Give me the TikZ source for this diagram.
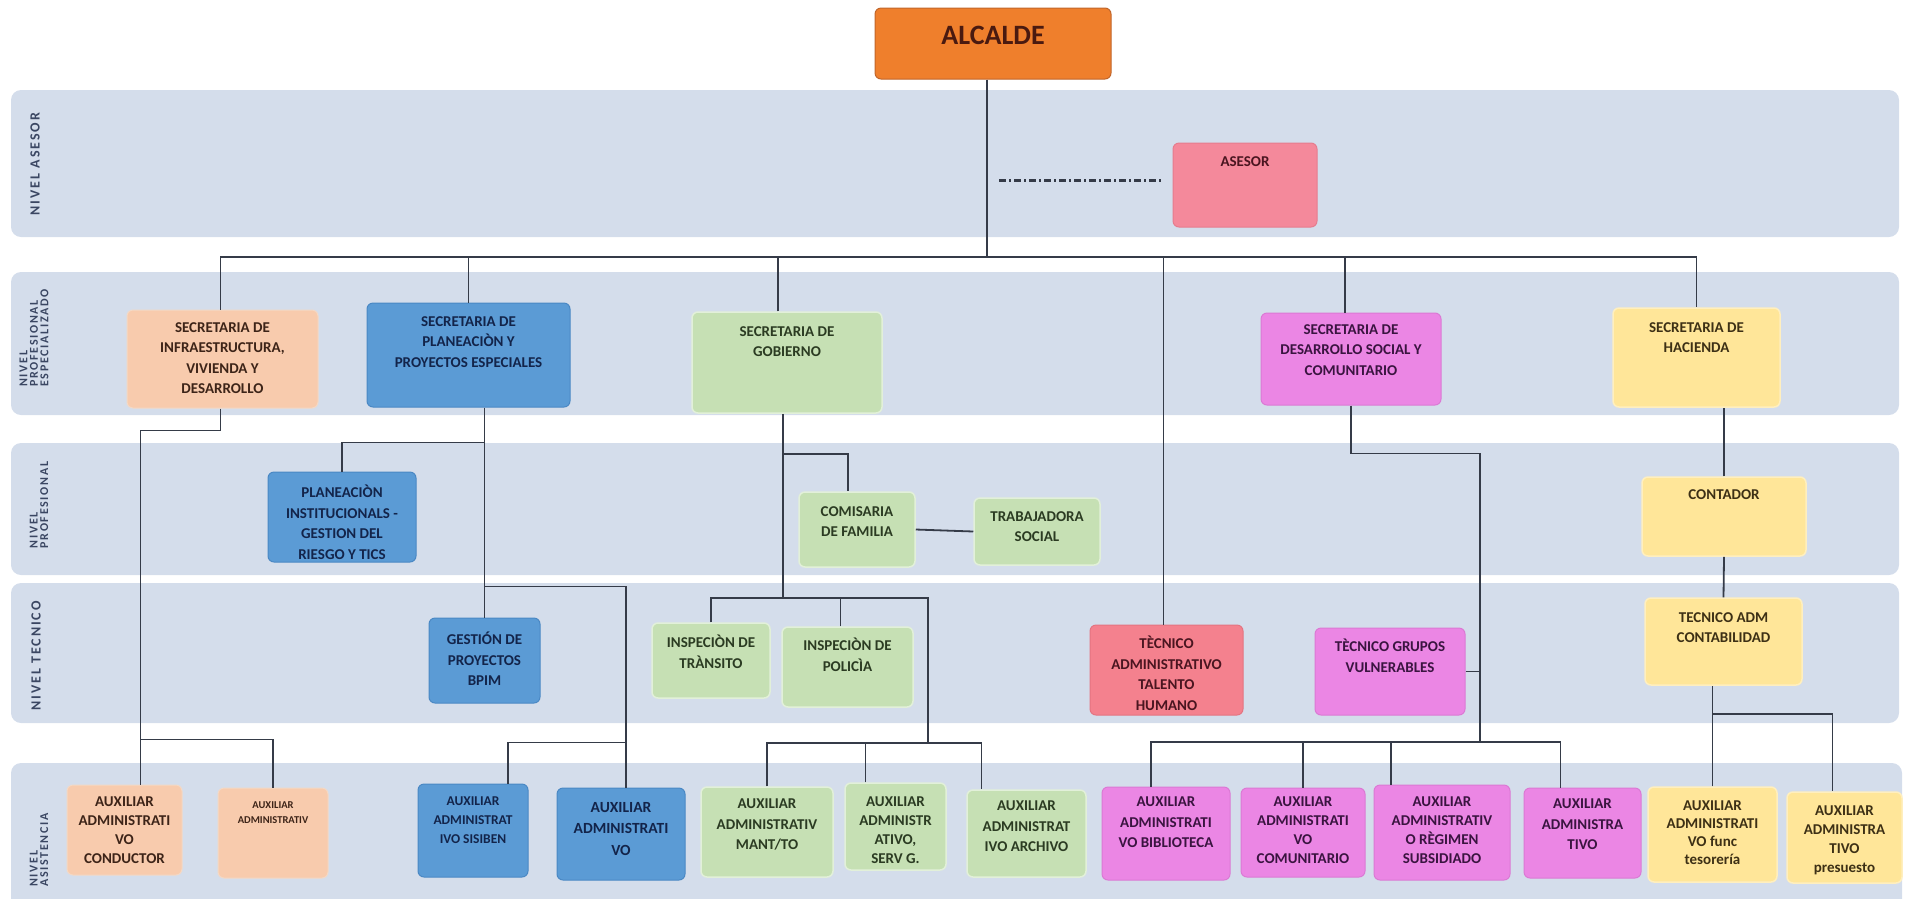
\documentclass[tikz,border=0pt]{standalone}
\usepackage{fontspec}
\setmainfont{Carlito}
\newfontfamily\lblfont{Carlito}[LetterSpace=14]
\usetikzlibrary{fit,calc}
\definecolor{bandc}{HTML}{D4DDEB}
\definecolor{linec}{HTML}{353B48}
\definecolor{orangef}{HTML}{EF7F2C}\definecolor{oranged}{HTML}{C0652A}\definecolor{oranget}{HTML}{4A1A10}
\definecolor{asesf}{HTML}{F4899B}\definecolor{asesd}{HTML}{E67C8E}\definecolor{pinkt}{HTML}{4A1520}
\definecolor{peachf}{HTML}{F8CBAD}\definecolor{peachd}{HTML}{F3D9C6}\definecolor{peacht}{HTML}{3D2418}
\definecolor{bluef}{HTML}{5B9BD5}\definecolor{blued}{HTML}{4A88C4}\definecolor{bluet}{HTML}{13244A}
\definecolor{greenf}{HTML}{C6E0B4}\definecolor{greend}{HTML}{E2F0D9}\definecolor{greent}{HTML}{2B3B22}
\definecolor{violf}{HTML}{EB86E4}\definecolor{viold}{HTML}{DB79D4}\definecolor{violt}{HTML}{3A1440}
\definecolor{yellf}{HTML}{FFE699}\definecolor{yelld}{HTML}{FFEFBF}\definecolor{yellt}{HTML}{3D3015}
\definecolor{tthf}{HTML}{F4818E}\definecolor{tthd}{HTML}{E47481}
\definecolor{lblc}{HTML}{3A4662}
\newcommand\obox[9]{%
  \node[#1, fit={(#3,#4)(#5,#6)}] (#2) {};
  \node[#1t, #8] (#2t) at ({(#3+#5)/2},#7) {#9};
}
\begin{document}
\begin{tikzpicture}[x=1pt,y=-1pt,
  band/.style={fill=bandc, rounded corners=10pt},
  ubox/.style={rounded corners=6pt, line width=1pt, inner sep=0pt},
  txt/.style={align=center, inner sep=0pt, anchor=north, font=\bfseries\fontsize{15}{20.5}\selectfont},
  small/.style={font=\bfseries\fontsize{15}{19}\selectfont},
  orange/.style={ubox, fill=orangef, draw=oranged},
  oranget/.style={txt, text=oranget},
  ases/.style={ubox, fill=asesf, draw=asesd},
  asest/.style={txt, text=pinkt},
  peach/.style={ubox, fill=peachf, draw=peachd},
  peacht/.style={txt, text=peacht},
  blue/.style={ubox, fill=bluef, draw=blued},
  bluet/.style={txt, text=bluet},
  green/.style={ubox, fill=greenf, draw=greend, line width=1.5pt},
  greent/.style={txt, text=greent},
  viol/.style={ubox, fill=violf, draw=viold},
  violt/.style={txt, text=violt},
  yell/.style={ubox, fill=yellf, draw=yelld, line width=1.5pt},
  yellt/.style={txt, text=yellt},
  tth/.style={ubox, fill=tthf, draw=tthd},
  ttht/.style={txt, text=pinkt},
  conn/.style={draw=linec, line width=1.8pt},
  lbl/.style={rotate=90, align=left, inner sep=0pt, text=lblc, font=\lblfont\bfseries\fontsize{14}{14}\selectfont},
  lbls/.style={lbl, font=\lblfont\bfseries\fontsize{12}{10.5}\selectfont},
]
\useasboundingbox (0,0) rectangle (1910,898);
% bands
\fill[band] (11,90) rectangle (1899,237);
\fill[band] (11,272) rectangle (1899,415);
\fill[band] (11,443) rectangle (1899,575);
\fill[band] (11,583) rectangle (1899,723);
\fill[band] (11,763) rectangle (1902,910);
\node[lbl] (l1) at (35,164) {NIVEL ASESOR};
\node[lbls] (l2) at (34,338) {NIVEL\\PROFESIONAL\\ESPECIALIZADO};
\node[lbls] (l3) at (39,505) {NIVEL\\PROFESIONAL};
\node[lbl] (l4) at (36,656) {NIVEL TECNICO};
\node[lbls] (l5) at (39,850) {NIVEL\\ASISTENCIA};
% top
\obox{orange}{alcalde}{875}{8}{1111}{79}{26}{font=\bfseries\fontsize{28}{30}\selectfont}{ALCALDE}
\obox{ases}{asesor}{1173}{143}{1317}{227}{156}{}{ASESOR}
% secretarias
\obox{peach}{infra}{127}{310}{318}{408}{322}{}{SECRETARIA DE\\INFRAESTRUCTURA,\\VIVIENDA Y\\DESARROLLO}
\obox{blue}{plan}{367}{303}{570}{407}{316}{}{SECRETARIA DE\\PLANEACIÒN Y\\PROYECTOS ESPECIALES}
\obox{green}{gob}{692}{312}{882}{413}{326}{}{SECRETARIA DE\\GOBIERNO}
\obox{viol}{desa}{1261}{313}{1441}{405}{324}{}{SECRETARIA DE\\DESARROLLO SOCIAL Y\\COMUNITARIO}
\obox{yell}{hac}{1613}{308}{1780}{407}{322}{}{SECRETARIA DE\\HACIENDA}
% nivel profesional
\obox{blue}{pinst}{268}{472}{416}{562}{485}{}{PLANEACIÒN\\INSTITUCIONALS -\\GESTION DEL\\RIESGO Y TICS}
\obox{green}{comis}{799}{492}{915}{567}{506}{}{COMISARIA\\DE FAMILIA}
\obox{green}{trab}{974}{498}{1100}{565}{511}{}{TRABAJADORA\\SOCIAL}
\obox{yell}{cont}{1642}{477}{1806}{556}{489}{}{CONTADOR}
% nivel tecnico
\obox{blue}{gest}{429}{618}{540}{703}{632}{}{GESTIÓN DE\\PROYECTOS\\BPIM}
\obox{green}{itran}{652}{623}{770}{698}{635}{}{INSPECIÒN DE\\TRÀNSITO}
\obox{green}{ipol}{782}{627}{913}{707}{638}{}{INSPECIÒN DE\\POLICÌA}
\obox{tth}{tth}{1090}{625}{1243}{715}{636}{}{TÈCNICO\\ADMINISTRATIVO\\TALENTO\\HUMANO}
\obox{viol}{tgv}{1315}{628}{1465}{715}{639}{}{TÈCNICO GRUPOS\\VULNERABLES}
\obox{yell}{tadm}{1645}{598}{1802}{685}{612}{}{TECNICO ADM\\CONTABILIDAD}
% nivel asistencia
\obox{peach}{acond}{67}{785}{182}{875}{797}{small}{AUXILIAR\\ADMINISTRATI\\VO\\CONDUCTOR}
\obox{peach}{aadmA}{218}{788}{328}{878}{801}{font=\bfseries\fontsize{10.5}{15}\selectfont}{AUXILIAR\\ADMINISTRATIV}
\obox{blue}{asis}{418}{784}{528}{877}{797}{font=\bfseries\fontsize{13.5}{19}\selectfont}{AUXILIAR\\ADMINISTRAT\\IVO SISIBEN}
\obox{blue}{aadmB}{557}{788}{685}{880}{802}{font=\bfseries\fontsize{15.5}{21.5}\selectfont}{AUXILIAR\\ADMINISTRATI\\VO}
\obox{green}{amant}{701}{787}{833}{877}{799}{}{AUXILIAR\\ADMINISTRATIV\\MANT/TO}
\obox{green}{aserv}{845}{783}{946}{870}{797}{small}{AUXILIAR\\ADMINISTR\\ATIVO,\\SERV G.}
\obox{green}{aarch}{967}{790}{1086}{877}{801}{}{AUXILIAR\\ADMINISTRAT\\IVO ARCHIVO}
\obox{viol}{abib}{1102}{787}{1230}{880}{797}{}{AUXILIAR\\ADMINISTRATI\\VO BIBLIOTECA}
\obox{viol}{acom}{1241}{788}{1365}{877}{797}{small}{AUXILIAR\\ADMINISTRATI\\VO\\COMUNITARIO}
\obox{viol}{areg}{1374}{785}{1510}{880}{797}{small}{AUXILIAR\\ADMINISTRATIV\\O RÈGIMEN\\SUBSIDIADO}
\obox{viol}{aadmC}{1524}{788}{1641}{878}{799}{}{AUXILIAR\\ADMINISTRA\\TIVO}
\obox{yell}{ates}{1648}{787}{1777}{882}{801}{font=\bfseries\fontsize{15}{18}\selectfont}{AUXILIAR\\ADMINISTRATI\\VO func\\tesorería}
\obox{yell}{apre}{1787}{792}{1902}{883}{806}{small}{AUXILIAR\\ADMINISTRA\\TIVO\\presuesto}
% connectors: top level
\coordinate (hub) at (987,257);
\draw[conn] (alcalde.south -| hub) -- (hub);
\draw[conn] ([xshift=-2]infra.north) -- ([xshift=-2]infra.north |- hub) -- (hac.north |- hub) -- (hac.north);
\draw[conn] (plan.north) -- (plan.north |- hub);
\draw[conn] ([xshift=-9]gob.north) -- ([xshift=-9]gob.north |- hub);
\draw[conn] ([xshift=-3]tth.north) -- ([xshift=-3]tth.north |- hub);
\draw[conn] ([xshift=-6]desa.north) -- ([xshift=-6]desa.north |- hub);
% asesor
\coordinate (advL) at (999,180);
\draw[draw=linec, line width=3pt, dash pattern=on 7pt off 3pt on 2pt off 3pt, shorten >=12pt] (advL) -- (advL -| asesor.west);
% infraestructura
\draw[conn] ([xshift=-2]infra.south) -- ++(0,22) -| ([xshift=16]acond.north);
\draw[conn] ([xshift=16,yshift=45]acond.north) -| (aadmA.north);
% planeacion
\draw[conn] (gest.north |- plan.south) -- (gest.north);
\draw[conn] ([yshift=-35]plan.south -| gest.north) -| (pinst.north);
\draw[conn] ([yshift=31]gest.north) -| ([xshift=5]aadmB.north);
\draw[conn] ([xshift=5,yshift=45]aadmB.north) -| ([xshift=35]asis.north);
% gobierno
\coordinate (gbus) at (928,598);
\coordinate (abus) at (928,743);
\draw[conn] ([xshift=-4]gob.south) -- ([xshift=-4]gob.south |- gbus);
\draw[conn] ([xshift=-4,yshift=-40]gob.south) -| ([xshift=-9]comis.north);
\draw[conn] (comis.east) -- (trab.west);
\draw[conn] (itran.north) -- (itran.north |- gbus) -- (gbus) -- (abus);
\draw[conn] ([xshift=-7]ipol.north) -- ([xshift=-7]ipol.north |- gbus);
\draw[conn] (amant.north) -- (amant.north |- abus) -- ([xshift=-45]aarch.north |- abus) -- ([xshift=-45]aarch.north);
\draw[conn] ([xshift=-30]aserv.north) -- ([xshift=-30]aserv.north |- abus);
% desarrollo social
\coordinate (dbus) at (1480,742);
\draw[conn] (desa.south) -- ++(0,48) -| (dbus);
\draw[conn] (tgv.east) -- (tgv.east -| dbus);
\draw[conn] ([xshift=-15]abib.north) -- ([xshift=-15]abib.north |- dbus) -- ([xshift=-22]aadmC.north |- dbus) -- ([xshift=-22]aadmC.north);
\draw[conn] (acom.north) -- (acom.north |- dbus);
\draw[conn] ([xshift=-51]areg.north) -- ([xshift=-51]areg.north |- dbus);
% hacienda
\draw[conn] (cont.north) -- (cont.north |- hac.south);
\draw[conn] (cont.south) -- (tadm.north);
\draw[conn] (ates.north) -- (ates.north |- tadm.south);
\draw[conn] ([yshift=72]ates.north) -| ([xshift=-12]apre.north);
\end{tikzpicture}
\end{document}
